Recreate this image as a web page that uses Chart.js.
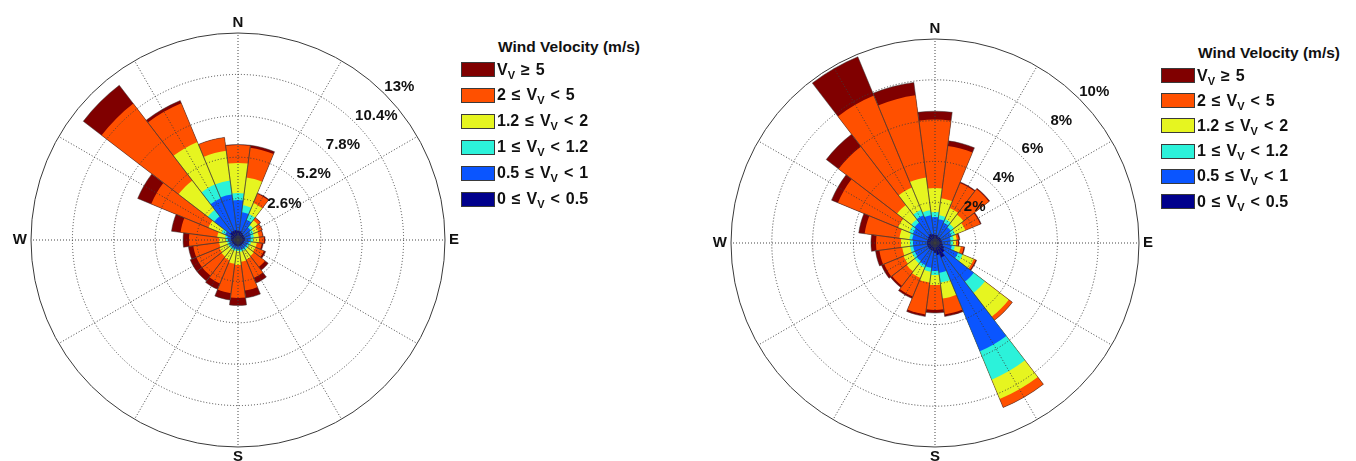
<!DOCTYPE html>
<html>
<head>
<meta charset="utf-8">
<script src="https://cdn.jsdelivr.net/npm/chart.js@4.4.1/dist/chart.umd.min.js"></script>
<style>
  html, body { margin:0; padding:0; background:#fff; width:1356px; height:461px; overflow:hidden; position:relative;
    font-family:"Liberation Sans", Arial, Helvetica, sans-serif; }
  canvas { position:absolute; top:0; }
  .legend { position:absolute; left:0; top:0; font-weight:bold; font-size:16px; color:#111; z-index:2; }
  .legend .title { position:absolute; white-space:nowrap; line-height:17px; font-size:15.5px; }
  .legend .row { position:absolute; height:15px; display:flex; align-items:center; white-space:nowrap; word-spacing:1.5px; }
  .legend .sw { width:34px; height:15px; border:1px solid #3a3a3a; box-sizing:border-box; margin-right:2px; flex:none; }
  .legend sub { font-size:11px; vertical-align:-4px; line-height:0; }
</style>
</head>
<body>
<canvas id="roseL" width="472" height="480" style="left:0px"></canvas>
<canvas id="roseR" width="466" height="480" style="left:700px"></canvas>
<div class="legend" id="legL"></div>
<div class="legend" id="legR"></div>
<script>
// ---------- categories ----------
const directions = [0,15,30,45,60,75,90,105,120,135,150,165,180,195,210,225,240,255,270,285,300,315,330,345];
const compassNames = ['N','E','S','W'];          // at 0, 90, 180, 270 degrees
const speedLower = [0, 0.5, 1, 1.2, 2, 5];
const speedUpper = [0.5, 1, 1.2, 2, 5, null];
const speedColors = ['#00008c', '#0a55ff', '#2cf2da', '#e6f520', '#ff5000', '#800000'];
const legendTitle = 'Wind Velocity (m/s)';

// ---------- left rose: frequency (%) per direction ----------
const left_0_05  = [0.57,0.57,0.50,0.44,0.44,0.44,0.44,0.38,0.38,0.38,0.38,0.38,0.38,0.38,0.38,0.38,0.38,0.38,0.44,0.44,0.50,0.63,0.63,0.63];
const left_05_1  = [1.94,1.19,0.88,0.57,0.44,0.38,0.31,0.31,0.25,0.25,0.25,0.25,0.19,0.19,0.19,0.19,0.19,0.19,0.19,0.25,0.38,1.25,2.20,2.26];
const left_1_12  = [0.44,0.44,0.38,0.18,0.19,0.19,0.19,0.13,0.12,0.12,0.12,0.12,0.12,0.12,0.12,0.12,0.12,0.12,0.12,0.13,0.25,0.51,0.94,0.88];
const left_12_2  = [1.89,1.76,0.75,0.38,0.31,0.31,0.38,0.37,0.44,0.51,0.57,0.63,0.88,0.82,0.69,0.63,0.57,0.50,0.44,0.50,0.88,2.32,2.89,1.88];
const left_2_5   = [1.13,1.88,0.63,0.19,0.25,0.25,0.31,0.32,0.57,0.88,1.26,1.82,2.07,1.86,1.57,1.51,1.57,1.64,1.89,2.32,3.89,6.09,2.64,0.85];
const left_5up   = [0.03,0.16,0.06,0.03,0.03,0.03,0.07,0.09,0.12,0.25,0.35,0.47,0.47,0.43,0.40,0.42,0.42,0.31,0.37,0.57,0.92,1.45,0.18,0.00];
const leftTickValues = [2.6, 5.2, 7.8, 10.4, 13];

// ---------- right rose: frequency (%) per direction ----------
const right_0_05 = [0.39,0.39,0.34,0.34,0.34,0.34,0.34,0.39,0.49,0.59,0.78,0.59,0.49,0.39,0.39,0.39,0.39,0.39,0.39,0.39,0.39,0.44,0.49,0.44];
const right_05_1 = [0.88,0.79,0.74,0.64,0.54,0.44,0.40,0.44,0.74,1.81,4.96,0.88,0.88,0.84,0.79,0.74,0.69,0.69,0.69,0.74,0.79,0.83,0.98,0.93];
const right_1_12 = [0.25,0.19,0.19,0.20,0.20,0.15,0.14,0.15,0.24,0.69,1.51,0.49,0.20,0.19,0.14,0.14,0.15,0.15,0.15,0.14,0.19,0.20,0.29,0.25];
const right_12_2 = [1.18,0.84,0.59,0.58,0.54,0.15,0.15,0.29,0.59,1.47,1.03,0.79,0.49,0.54,0.54,0.49,0.44,0.39,0.44,0.49,0.59,0.88,1.18,1.62];
const right_2_5  = [3.35,2.59,1.33,1.57,0.78,0.10,0.10,0.15,0.10,0.22,0.45,0.78,1.22,1.57,0.98,0.89,1.03,1.13,1.22,1.72,3.19,3.61,4.88,4.06];
const right_5up  = [0.41,0.25,0.05,0.05,0.05,0.05,0.05,0.05,0.05,0.00,0.00,0.10,0.15,0.10,0.10,0.10,0.14,0.19,0.25,0.29,0.34,0.76,2.06,0.64];
const rightTickValues = [2, 4, 6, 8, 10];

// ---------- helpers ----------
const FONT = '"Liberation Sans", Arial, Helvetica, sans-serif';
const sectorWidth = 360 / directions.length;       // 15 deg
const halfStep = sectorWidth / 2;                  // grid slots every 7.5 deg
const slotCount = 360 / halfStep;                  // 48
const slotAngle = i => ((-halfStep + i * halfStep) % 360 + 360) % 360;
const gridLabels = Array.from({length: slotCount}, (_, i) => {
  const a = slotAngle(i);
  return a % 90 === 0 ? compassNames[a / 90] : '';
});
const isSpoke = i => slotAngle(i) % 30 === 0;
const GRID = 'rgba(60,60,60,0.95)';

function classLabel(k) {
  const V = 'V<sub>V</sub>';
  const lo = speedLower[k], hi = speedUpper[k];
  return hi === null ? `${V} \u2265 ${lo}` : `${lo} \u2264 ${V} &lt; ${hi}`;
}

const tickLabelPlugin = {
  id: 'roseTickLabels',
  afterDraw(chart) {
    const s = chart.scales.r;
    const ctx = chart.ctx;
    ctx.save();
    ctx.font = 'bold 15px ' + FONT;
    ctx.fillStyle = '#111';
    ctx.textAlign = 'left';
    ctx.textBaseline = 'alphabetic';
    const a = Math.PI / 4;
    s.ticks.forEach(t => {
      if (t.value <= 0) return;
      const r = s.getDistanceFromCenterForValue(t.value);
      ctx.fillText(t.label, s.xCenter + r * Math.cos(a), s.yCenter - r * Math.sin(a) - 3);
    });
    ctx.restore();
  }
};

function buildRose(canvasId, series, tickValues, pad) {
  const n = directions.length;
  let run = new Array(n).fill(0);
  const cum = series.map(s => (run = run.map((v, i) => v + s[i])));
  const datasets = [{
    label: 'outline', data: cum[cum.length - 1],
    backgroundColor: 'rgba(0,0,0,0)', borderColor: 'rgba(55,55,55,0.7)', borderWidth: 0.7
  }];
  cum.forEach((d, k) => datasets.push({
    label: 'class ' + k, data: d, backgroundColor: speedColors[k], borderWidth: 0
  }));
  const maxV = tickValues[tickValues.length - 1];
  return new Chart(document.getElementById(canvasId), {
    type: 'polarArea',
    data: { labels: gridLabels, datasets },
    options: {
      responsive: false, animation: false, events: [],
      layout: { padding: pad },
      plugins: { legend: { display: false }, tooltip: { enabled: false } },
      scales: {
        r: {
          type: 'radialLinear', min: 0, max: maxV, startAngle: -halfStep,
          ticks: { display: false, stepSize: tickValues[0], callback: v => (+v.toFixed(2)) + '%' },
          grid: {
            z: 1, circular: true, lineWidth: 1,
            color: c => (c.tick && c.tick.value >= maxV - 1e-6) ? '#3a3a3a' : GRID
          },
          border: { dash: c => (c.tick && c.tick.value >= maxV - 1e-6) ? [] : [1, 2] },
          angleLines: {
            display: true, borderDash: [1, 2],
            color: c => isSpoke(c.index) ? GRID : 'rgba(0,0,0,0)',
            lineWidth: c => isSpoke(c.index) ? 1 : 0
          },
          pointLabels: {
            display: true, centerPointLabels: false, color: '#111',
            font: { family: FONT, size: 15, weight: 'bold' },
            padding: c => (c.label === 'E' || c.label === 'W') ? 4 : 1
          }
        }
      }
    },
    plugins: [tickLabelPlugin]
  });
}

function buildLegend(id, titleLeft, titleTop, boxLeft, rowTop, rowStep) {
  const el = document.getElementById(id);
  let html = `<div class="title" style="left:${titleLeft}px;top:${titleTop}px">${legendTitle}</div>`;
  for (let r = 0; r < speedLower.length; r++) {
    const k = speedLower.length - 1 - r;
    html += `<div class="row" style="left:${boxLeft}px;top:${(rowTop + r * rowStep).toFixed(1)}px">` +
            `<span class="sw" style="background:${speedColors[k]}"></span><span>${classLabel(k)}</span></div>`;
  }
  el.innerHTML = html;
}

buildRose('roseL', [left_0_05, left_05_1, left_1_12, left_12_2, left_2_5, left_5up], leftTickValues,
          {left: 10, right: 10, top: 14, bottom: 14});
buildRose('roseR', [right_0_05, right_05_1, right_1_12, right_12_2, right_2_5, right_5up], rightTickValues,
          {left: 10, right: 10, top: 20, bottom: 14});
buildLegend('legL', 498, 38, 461, 62, 25.9);
buildLegend('legR', 1198, 44, 1161, 68, 25.2);
</script>
</body>
</html>
